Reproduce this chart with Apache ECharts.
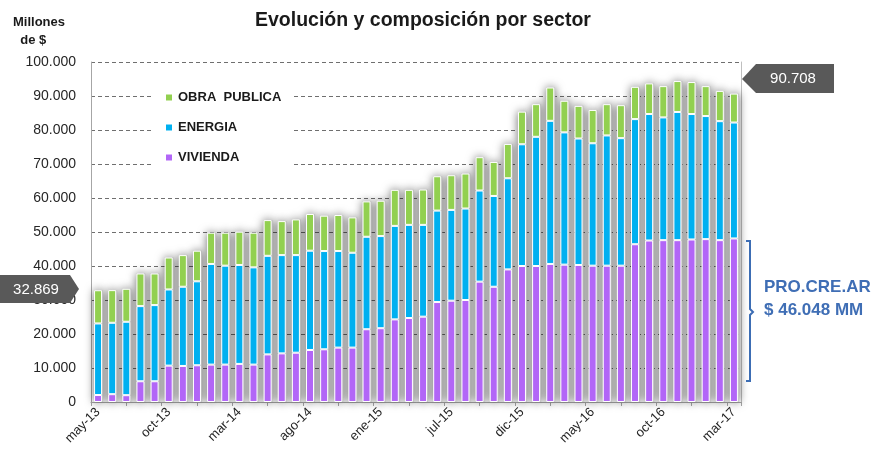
<!DOCTYPE html>
<html>
<head>
<meta charset="utf-8">
<script src="https://cdn.jsdelivr.net/npm/echarts@6/dist/echarts.min.js"></script>
<style>
html,body{margin:0;padding:0;background:#fff;}
#chart{width:877px;height:452px;}
</style>
</head>
<body>
<div id="chart"></div>
<script>
// meses (falta un mes entre ene-15 y jul-15 en el original)
var meses = ['may-13','jun-13','jul-13','ago-13','sep-13','oct-13','nov-13','dic-13',
	'ene-14','feb-14','mar-14','abr-14','may-14','jun-14','jul-14','ago-14','sep-14','oct-14','nov-14','dic-14',
	'ene-15','feb-15','mar-15','abr-15','may-15','jul-15','ago-15','sep-15','oct-15','nov-15','dic-15',
	'ene-16','feb-16','mar-16','abr-16','may-16','jun-16','jul-16','ago-16','sep-16','oct-16','nov-16','dic-16',
	'ene-17','feb-17','mar-17'];

// millones de $
var vivienda = [2050,2300,2000,6100,6100,10700,10600,10800,11000,11000,11200,11000,14000,14300,14500,15300,
	15500,16000,16000,21400,21700,24300,24700,25100,29400,29800,30000,35400,33900,39000,40000,40000,40600,
	40400,40300,40100,40100,40100,46400,47500,47600,47600,47800,47900,47600,48100];
var energia = [21050,21000,21600,22100,22400,22400,23300,24700,29600,29100,29100,28600,29000,28900,28700,29200,
	28900,28400,27900,27200,27100,27500,27400,27000,26900,26700,26900,26800,26700,26800,35800,38000,42100,
	38900,37200,36000,38300,37500,36800,37200,36100,37700,36900,36200,35000,34100];
var obraPublica = [9769,9600,9700,9600,9300,9400,9300,9000,9200,9700,9800,10200,10500,10000,10500,10800,
	10400,10600,10400,10400,10400,10600,10300,10400,10100,10200,10300,9800,10000,10100,9600,9600,9800,
	9300,9600,9800,9200,9700,9500,9000,9200,9100,9400,8800,8900,8508];

var yTicks = [0,10000,20000,30000,40000,50000,60000,70000,80000,90000,100000];

var total = vivienda.map(function( v, i ){ return v + energia[i] + obraPublica[i]; });

function fmtMiles( v )
{
	return String( Math.round( v ) ).replace( /\B(?=(\d{3})+(?!\d))/g, '.' );
}

var FONT = '"Liberation Sans", Arial, sans-serif';
var myChart = echarts.init( document.getElementById('chart'), null, { renderer: 'canvas' } );

myChart.setOption({
	animation: false,
	textStyle: { fontFamily: FONT },
	title: {
		text: 'Evolución y composición por sector',
		left: 250,
		top: 6,
		textStyle: { fontSize: 19.5, fontWeight: 'bold', color: '#1a1a1a', fontFamily: FONT }
	},
	legend: {
		orient: 'vertical',
		left: 152,
		top: 83,
		padding: [8, 10, 8, 12],
		backgroundColor: '#fff',
		itemWidth: 8,
		itemHeight: 8,
		itemGap: 17,
		icon: 'rect',
		data: ['OBRA  PUBLICA','ENERGIA','VIVIENDA'],
		textStyle: { fontSize: 13, fontWeight: 'bold', color: '#1a1a1a', fontFamily: FONT }
	},
	grid: { left: 91, right: 136, top: 62, bottom: 50 },
	xAxis: [
		{
			type: 'category',
			data: meses,
			axisLine: { lineStyle: { color: '#a6a6a6' } },
			axisTick: { show: false },
			axisLabel: { interval: 4, rotate: 45, fontSize: 13, color: '#262626', margin: 8 }
		},
		{
			// marcas del eje cada 2,5 barras como en el original
			type: 'value',
			position: 'bottom',
			min: 0,
			max: meses.length,
			interval: 2.5,
			axisLine: { show: false },
			axisTick: { show: true, length: 4, lineStyle: { color: '#a6a6a6' } },
			axisLabel: { show: false },
			splitLine: { show: false }
		}
	],
	yAxis: [
		{
			type: 'value',
			min: 0,
			max: 100000,
			interval: 10000,
			axisLine: { show: true, lineStyle: { color: '#a6a6a6' } },
			axisTick: { show: false },
			axisLabel: {
				fontSize: 14, color: '#262626', margin: 15,
				formatter: function( v ){ return yTicks.indexOf( v ) >= 0 ? fmtMiles( v ) : ''; }
			},
			splitLine: { lineStyle: { color: '#6f6f6f', type: [4, 3], width: 1 } }
		},
		{
			type: 'value',
			min: 0,
			max: 100000,
			interval: 10000,
			position: 'right',
			axisLine: { show: true, lineStyle: { color: '#bfbfbf' } },
			axisTick: { show: false },
			axisLabel: { show: false },
			splitLine: { show: false }
		}
	],
	series: [
		{
			name: 'sombra',
			type: 'bar',
			data: total,
			barWidth: 9,
			barGap: '-100%',
			silent: true,
			itemStyle: { color: '#c8c8c8', shadowBlur: 10, shadowColor: 'rgba(0,0,0,0.6)' }
		},
		{
			name: 'VIVIENDA',
			type: 'bar',
			stack: 'total',
			data: vivienda,
			barWidth: 8,
			barGap: '-100%',
			itemStyle: { color: '#b266f7', borderColor: '#fff', borderWidth: 1 }
		},
		{
			name: 'ENERGIA',
			type: 'bar',
			stack: 'total',
			data: energia,
			barWidth: 8,
			barGap: '-100%',
			itemStyle: { color: '#00b0f0', borderColor: '#fff', borderWidth: 1 }
		},
		{
			name: 'OBRA  PUBLICA',
			type: 'bar',
			stack: 'total',
			data: obraPublica,
			barWidth: 8,
			barGap: '-100%',
			itemStyle: { color: '#92d050', borderColor: '#fff', borderWidth: 1 }
		}
	],
	graphic: [
		{
			type: 'text',
			left: 13,
			top: 13,
			style: { text: 'Millones\n  de $', font: 'bold 13px ' + FONT, fill: '#1a1a1a', lineHeight: 18 }
		},
		// etiqueta primer valor
		{
			type: 'polygon',
			shape: { points: [[0,275],[70,275],[79,289],[70,303],[0,303]] },
			style: { fill: '#595959' },
			z: 10
		},
		{
			type: 'text',
			x: 36, y: 290,
			style: { text: fmtMiles( total[0] ), font: '15px ' + FONT, fill: '#fff', align: 'center', verticalAlign: 'middle' },
			z: 11
		},
		// etiqueta ultimo valor
		{
			type: 'polygon',
			shape: { points: [[742,79],[756,64],[834,64],[834,93],[756,93]] },
			style: { fill: '#595959' },
			z: 10
		},
		{
			type: 'text',
			x: 793, y: 79,
			style: { text: fmtMiles( total[total.length - 1] ), font: '15px ' + FONT, fill: '#fff', align: 'center', verticalAlign: 'middle' },
			z: 11
		},
		// llave PRO.CRE.AR
		{
			type: 'polyline',
			shape: { points: [[746,241],[750,241],[750,309],[753,312],[750,315],[750,381],[746,381]] },
			style: { stroke: '#3c6db4', lineWidth: 2, fill: null },
			z: 10
		},
		{
			type: 'text',
			x: 764, y: 287,
			style: { text: 'PRO.CRE.AR', font: 'bold 17px ' + FONT, fill: '#3f6eb5', verticalAlign: 'middle' },
			z: 10
		},
		{
			type: 'text',
			x: 764, y: 310,
			style: { text: '$ 46.048 MM', font: 'bold 17px ' + FONT, fill: '#3f6eb5', verticalAlign: 'middle' },
			z: 10
		}
	]
});
</script>
</body>
</html>
